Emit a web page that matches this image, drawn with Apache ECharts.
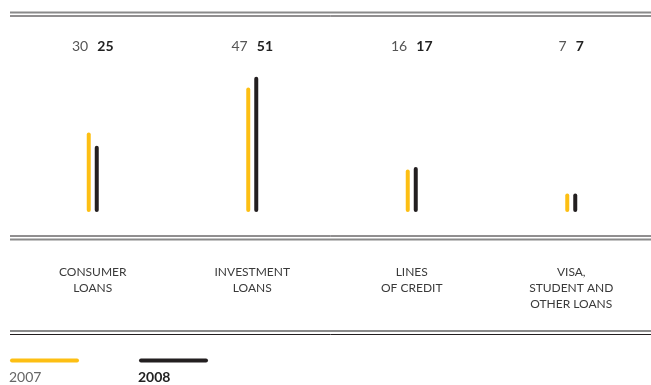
<!DOCTYPE html>
<html>
<head>
<meta charset="utf-8">
<script src="https://cdn.jsdelivr.net/npm/echarts@6/dist/echarts.min.js"></script>
<style>
  html, body { margin: 0; padding: 0; background: #fff; }
  #chart { width: 651px; height: 385px; }
</style>
</head>
<body>
<div id="chart"></div>
<script>
// chart data
var categories = ['CONSUMER\nLOANS', 'INVESTMENT\nLOANS', 'LINES\nOF CREDIT', 'VISA,\nSTUDENT AND\nOTHER LOANS'];
var years = ['2007', '2008'];
var values2007 = [30, 47, 16, 7];
var values2008 = [25, 51, 17, 7];

var YELLOW = '#fdbf13';
var BLACK = '#231f20';
var FONT = 'Lato';

function rule(y, color, w) {
  return {
    type: 'line',
    shape: { x1: 10, y1: y, x2: 651, y2: y },
    style: { stroke: color, lineWidth: w }
  };
}

var chart = echarts.init(document.getElementById('chart'));
chart.setOption({
  animation: false,
  textStyle: { fontFamily: FONT },
  grid: { left: 13, right: 0, top: 53, bottom: 173 },
  xAxis: [{
    type: 'category',
    data: categories,
    axisLine: { show: false },
    axisTick: { show: false },
    axisLabel: {
      margin: 52,
      fontSize: 12,
      lineHeight: 16,
      color: '#3a3a3a',
      verticalAlign: 'top'
    }
  }, {
    type: 'category',
    position: 'top',
    data: categories,
    axisLine: { show: false },
    axisTick: { show: false },
    axisLabel: {
      margin: 0,
      formatter: function (v, i) {
        return '{a|' + values2007[i] + '}   {b|' + values2008[i] + '}';
      },
      rich: {
        a: { fontSize: 14, color: '#555', fontFamily: FONT },
        b: { fontSize: 14, color: '#222', fontWeight: 'bold', fontFamily: FONT }
      }
    }
  }],
  yAxis: {
    type: 'value',
    min: 0,
    max: 60,
    show: false,
    splitLine: { show: false }
  },
  series: [{
    name: years[0],
    type: 'bar',
    data: values2007,
    barWidth: 4,
    barGap: '100%',
    itemStyle: { color: YELLOW, borderRadius: 2 }
  }, {
    name: years[1],
    type: 'bar',
    data: values2008,
    barWidth: 4,
    itemStyle: { color: BLACK, borderRadius: 2 }
  }],
  graphic: [
    rule(12.5, '#8a8a8a', 2),
    rule(16, BLACK, 1),
    rule(236, BLACK, 1),
    rule(239.5, '#8a8a8a', 2),
    rule(331, '#8a8a8a', 2),
    rule(334.5, BLACK, 1),
    {
      type: 'line',
      shape: { x1: 12, y1: 360.5, x2: 77, y2: 360.5 },
      style: { stroke: YELLOW, lineWidth: 4, lineCap: 'round' }
    },
    {
      type: 'line',
      shape: { x1: 141, y1: 360.5, x2: 206, y2: 360.5 },
      style: { stroke: BLACK, lineWidth: 4, lineCap: 'round' }
    },
    {
      type: 'text',
      left: 9, top: 370,
      style: { text: years[0], font: '14px ' + FONT, fill: '#666' }
    },
    {
      type: 'text',
      left: 138, top: 370,
      style: { text: years[1], font: 'bold 14px ' + FONT, fill: '#222' }
    }
  ]
});
</script>
</body>
</html>
